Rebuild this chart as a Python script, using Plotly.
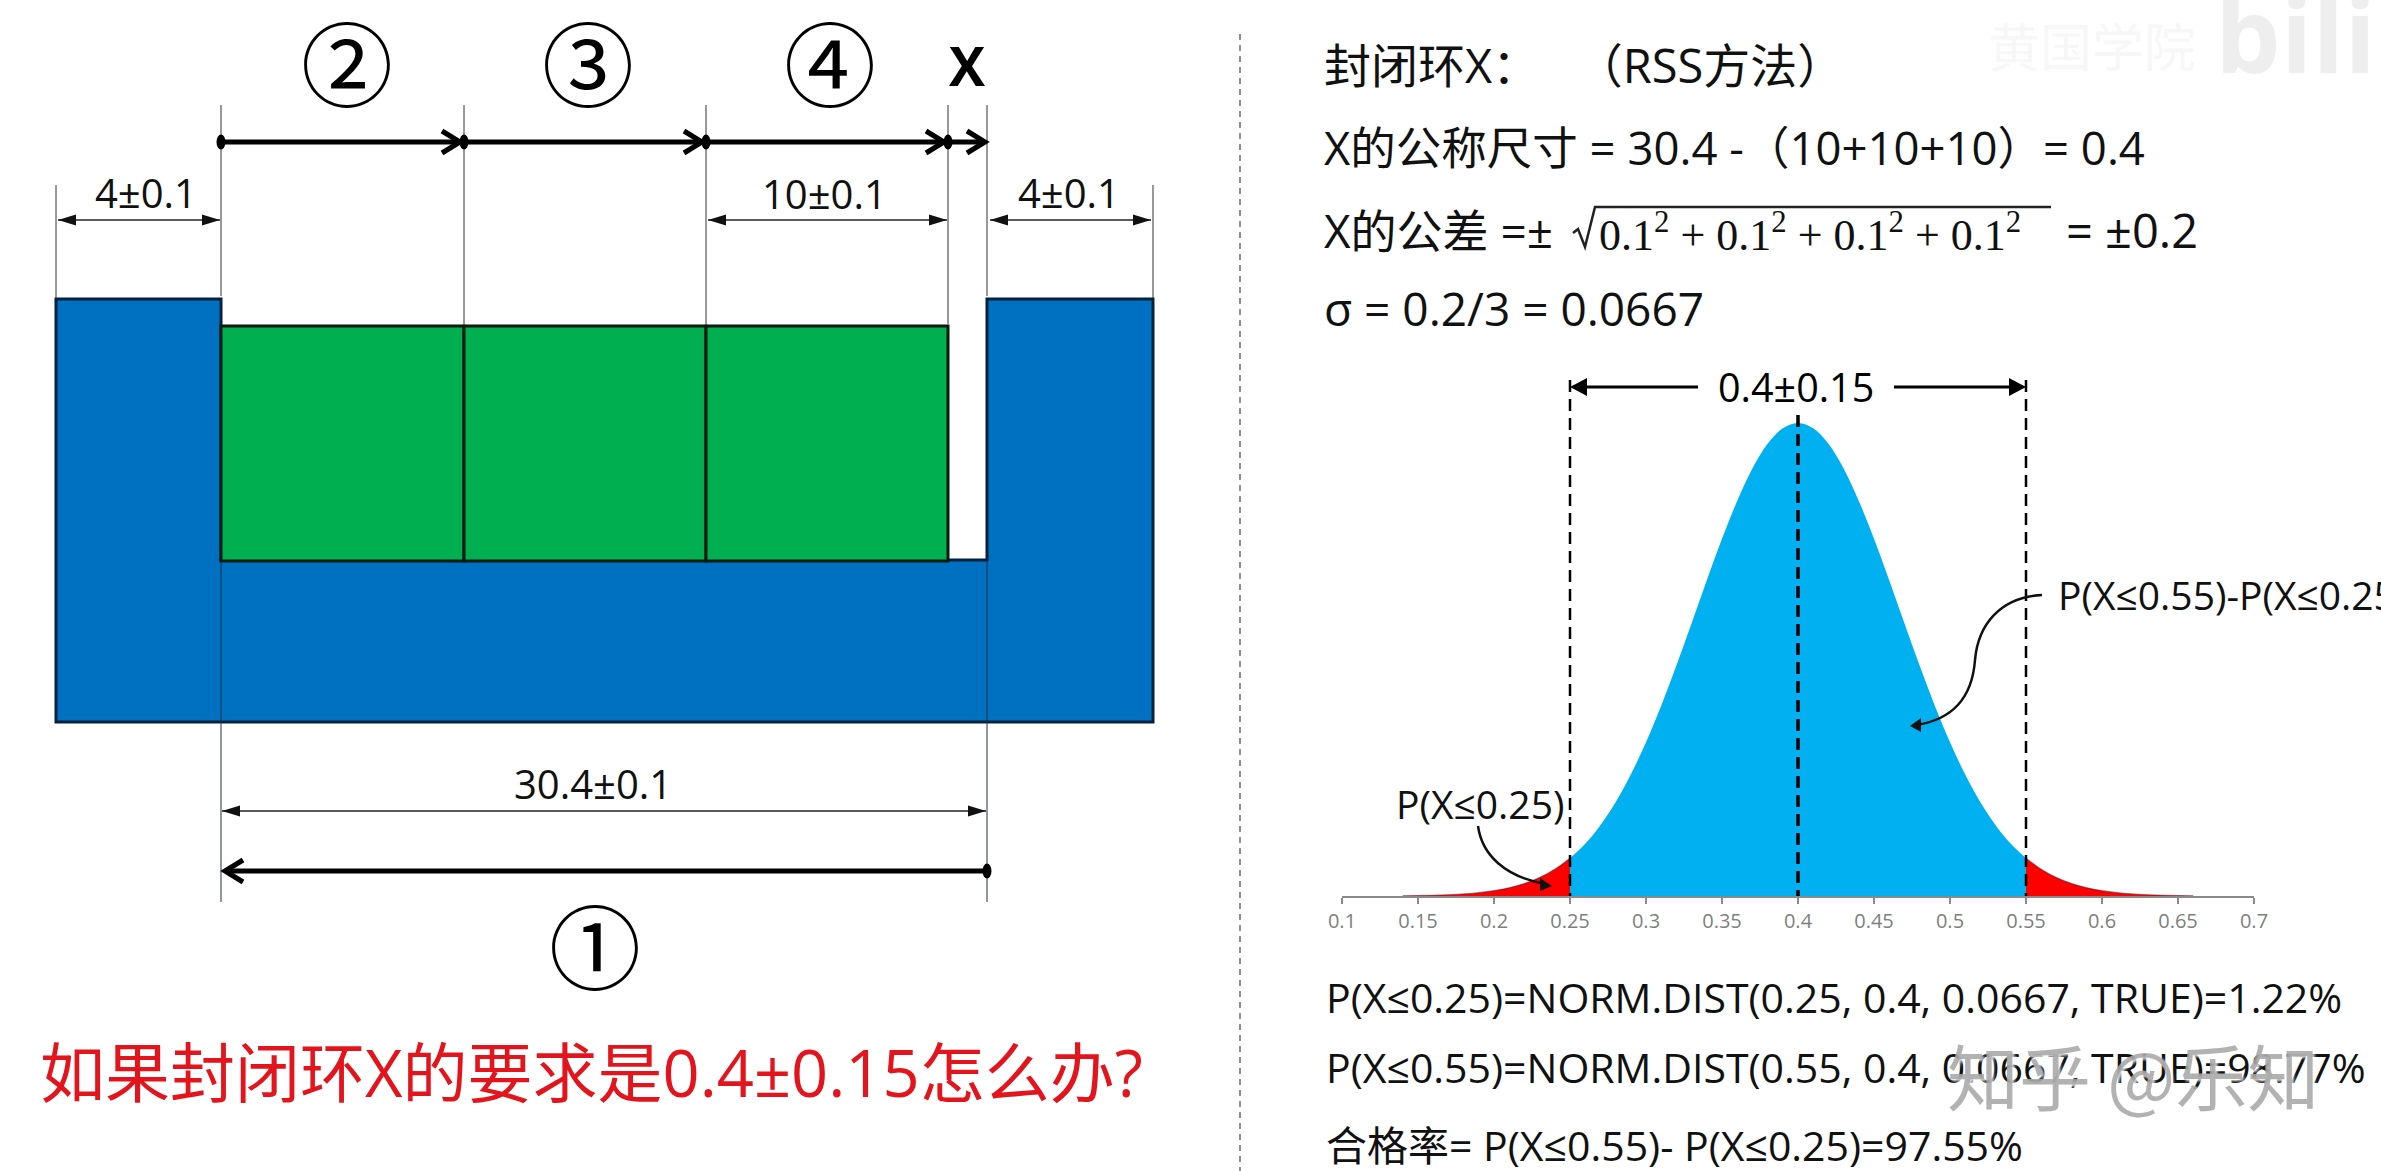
import plotly.graph_objects as go

# ---------- data ----------
BELL_X = [0.14,0.15,0.16,0.17,0.18,0.19,0.20,0.21,0.22,0.23,0.24,0.25,0.26,0.27,0.28,0.29,0.30,0.31,0.32,0.33,0.34,
          0.35,0.36,0.37,0.38,0.39,0.40,0.41,0.42,0.43,0.44,0.45,0.46,0.47,0.48,0.49,0.50,0.51,0.52,0.53,0.54,0.55,
          0.56,0.57,0.58,0.59,0.60,0.61,0.62,0.63,0.64,0.65,0.66]
BELL_Y = [0.05,0.09,0.15,0.26,0.43,0.70,1.12,1.73,2.63,3.89,5.64,7.99,11.05,14.97,19.82,25.67,32.50,40.24,48.72,57.68,66.74,
          75.51,83.53,90.38,95.60,98.88,100,98.88,95.60,90.38,83.53,75.51,66.74,57.68,48.72,40.24,32.50,25.67,19.82,14.97,11.05,7.99,
          5.64,3.89,2.63,1.73,1.12,0.70,0.43,0.26,0.15,0.09,0.05]
TICK_VALS = [0.1,0.15,0.2,0.25,0.3,0.35,0.4,0.45,0.5,0.55,0.6,0.65,0.7]
TICK_TEXT = ["0.1","0.15","0.2","0.25","0.3","0.35","0.4","0.45","0.5","0.55","0.6","0.65","0.7"]
LOWER_LIMIT = 0.25
UPPER_LIMIT = 0.55
NOMINAL = 0.4
REPORT_LINES = ["P(X≤0.25)=NORM.DIST(0.25, 0.4, 0.0667, TRUE)=1.22%",
                "P(X≤0.55)=NORM.DIST(0.55, 0.4, 0.0667, TRUE)=98.77%",
                "合格率= P(X≤0.55)- P(X≤0.25)=97.55%"]

W, H = 2381, 1171
FONT = "Open Sans, Noto Sans CJK SC, Noto Sans, sans-serif"
CJK = "Noto Sans CJK SC, Noto Sans, sans-serif"
BLUE, GREEN, SKY, RED = "#0070C0", "#00B050", "#00B0F0", "#FF0000"
INK = "#111111"

shapes, annos = [], []

def line(x0, y0, x1, y1, w=1.0, c="#333333", dash=None, xref="x"):
    shapes.append(dict(type="line", xref=xref, yref="y", x0=x0, y0=y0, x1=x1, y1=y1,
                       line=dict(color=c, width=w, dash=dash or "solid")))

def path(d, fill=None, w=0, c=None):
    s = dict(type="path", xref="x", yref="y", path=d, line=dict(width=w, color=c or "rgba(0,0,0,0)"))
    if fill:
        s["fillcolor"] = fill
    shapes.append(s)

def text(x, y, s, size, color=INK, anchor="center", font=FONT, **kw):
    f = dict(size=size, color=color, family=font)
    f.update(kw)
    annos.append(dict(xref="x", yref="y", x=x, y=y, text=s, showarrow=False, xanchor=anchor,
                      yanchor="middle", font=f, borderpad=0, borderwidth=0))

def tri(x, y, d, ln=18, hw=5.5, c=INK):
    path(f"M{x},{y} L{x - d*ln},{y - hw} L{x - d*ln},{y + hw} Z", fill=c)

def dim(x0, x1, y, w=1.5):
    line(x0, y, x1, y, w, "#222222")
    tri(x0, y, -1)
    tri(x1, y, 1)

def heavy(x_start, x_tip, y):
    d = 1 if x_tip > x_start else -1
    line(x_start, y, x_tip - d*6, y, 5, "#000000")
    shapes.append(dict(type="circle", xref="x", yref="y", x0=x_start-4.5, x1=x_start+4.5, y0=y-7.5, y1=y+7.5,
                       fillcolor="#000000", line=dict(width=0)))
    tip = x_tip - d*4
    path(f"M{tip - d*18},{y - 11} L{tip},{y} L{tip - d*18},{y + 11}", w=5, c="#000000")

# ---------- U shaped base ----------
OUT_L, OUT_R, IN_L, IN_R = 56, 1153, 221, 987
TOP, FLOOR, BOT = 299, 560, 722
path(f"M{OUT_L},{TOP} L{IN_L},{TOP} L{IN_L},{FLOOR} L{IN_R},{FLOOR} L{IN_R},{TOP} L{OUT_R},{TOP} L{OUT_R},{BOT} L{OUT_L},{BOT} Z",
     fill=BLUE, w=3, c="#06203f")
EDGES = [221, 464, 706, 948]
for a, b in zip(EDGES[:-1], EDGES[1:]):
    shapes.append(dict(type="rect", xref="x", yref="y", x0=a, x1=b, y0=326, y1=561,
                       fillcolor=GREEN, line=dict(color="#0b1a10", width=3)))

# ---------- extension lines ----------
for x in [221, 464, 706, 948, 987]:
    line(x, 105, x, 296 if x in (221, 987) else 324)
line(56, 185, 56, 298); line(1153, 185, 1153, 298)
for x in [221, 987]:
    line(x, 562, x, 902, 1.0, "#20303f")

# ---------- top chain ----------
heavy(221, 464, 142); heavy(464, 706, 142); heavy(706, 948, 142); heavy(948, 989, 142)
dim(58, 220, 220); dim(708, 947, 220); dim(990, 1151, 220)
text(146, 192, "4±0.1", 40); text(824, 193, "10±0.1", 40); text(1069, 192, "4±0.1", 40)
for cx, s in [(347, "②"), (588, "③"), (830, "④")]:
    text(cx, 59, s, 92, "#000000", font=CJK)
text(967, 65, "X", 54, "#000000", weight="bold")

# ---------- bottom chain ----------
dim(222, 986, 811)
text(593, 783, "30.4±0.1", 40)
heavy(987, 221, 871)
text(595, 942, "①", 92, "#000000", font=CJK)
text(591, 1072, "如果封闭环X的要求是0.4±0.15怎么办?", 65, "#E3141C")

# ---------- right panel text ----------
line(1240, 34, 1240, H, 1.2, "#444444", dash="6px,5px")
LEFT = 1324
text(LEFT, 65, "封闭环X：   （RSS方法）", 47, anchor="left")
text(LEFT, 147, "X的公称尺寸 = 30.4 -（10+10+10）= 0.4", 45.5, anchor="left")
text(LEFT, 230, "X的公差 =±", 46, anchor="left")
path("M1573,233 L1578,229 L1585,247 L1595,207 L2051,207", w=2.5, c="#222222")
SERIF = "Liberation Serif, DejaVu Serif, serif"
text(1599, 232, "0.1<sup>2</sup> + 0.1<sup>2</sup> + 0.1<sup>2</sup> + 0.1<sup>2</sup>", 44, anchor="left", font=SERIF)
text(2066, 230, "= ±0.2", 47, anchor="left")
text(LEFT, 308, "σ = 0.2/3 = 0.0667", 46, anchor="left")
for y, s in zip([997, 1067, 1145], REPORT_LINES):
    text(1326, y, s, 41, anchor="left")

# ---------- bell chart annotations ----------
for v, w, top in [(LOWER_LIMIT, 2.5, 380), (UPPER_LIMIT, 2.5, 380), (NOMINAL, 3.5, 415)]:
    line(v, top, v, 896, w, "#000000", dash="12px,7px", xref="x2")
line(1698, 387, 1575, 387, 3, "#000000"); tri(1570, 387, -1, 17, 9, "#000000")
line(1894, 387, 2020, 387, 3, "#000000"); tri(2026, 387, 1, 17, 9, "#000000")
text(1796, 387, "0.4±0.15", 39.5, "#000000")
text(1396, 803, "P(X≤0.25)", 39, anchor="left")
text(2058, 594, "P(X≤0.55)-P(X≤0.25)", 39, anchor="left")
path("M2042,595 C2000,597 1978,625 1975,660 C1972,700 1950,720 1916,725", w=2.5, c="#111111")
path("M1910,726 L1921,718 L1921,732 Z", fill="#111111")
path("M1478,826 C1482,855 1505,877 1546,884", w=2.5, c="#111111")
path("M1552,886 L1540,878 L1540,891 Z", fill="#111111")

# ---------- watermarks ----------
text(2133, 1073, "知乎 @乐知", 72, "rgba(165,165,165,0.85)", font=CJK, shadow="2px 2px 3px white")
text(2092, 44, "黄国学院", 52, "#F7F7F7", font=CJK)
text(2215, 32, "bilibili", 104, "#EEEEEE", anchor="left", weight="bold")

# ---------- traces ----------
def part(lo, hi):
    pts = [(x, y) for x, y in zip(BELL_X, BELL_Y) if lo <= x + 1e-9 and x - 1e-9 <= hi]
    return [p[0] for p in pts], [p[1] for p in pts]

fig = go.Figure()
fig.add_trace(go.Scatter(x=[0, W], y=[0, H], mode="markers", marker=dict(opacity=0), hoverinfo="skip",
                         showlegend=False, xaxis="x", yaxis="y"))
for lo, hi, col, lc, lw in [(0.1, LOWER_LIMIT, RED, "rgba(90,25,50,0.55)", 1.2), (LOWER_LIMIT, UPPER_LIMIT, SKY, SKY, 0),
                            (UPPER_LIMIT, 0.7, RED, "rgba(90,25,50,0.55)", 1.2)]:
    xs, ys = part(lo, hi)
    fig.add_trace(go.Scatter(x=xs, y=ys, mode="lines", fill="tozeroy", fillcolor=col,
                             line=dict(width=lw, color=lc, shape="spline"),
                             hoverinfo="skip", showlegend=False, xaxis="x2", yaxis="y2"))

fig.update_layout(
    width=W, height=H, margin=dict(l=0, r=0, t=0, b=0, pad=0, autoexpand=False), paper_bgcolor="white",
    plot_bgcolor="rgba(0,0,0,0)", showlegend=False, shapes=shapes, annotations=annos, font=dict(family=FONT),
    xaxis=dict(domain=[0, 1], range=[0, W], visible=False, fixedrange=True, automargin=False),
    yaxis=dict(domain=[0, 1], range=[H, 0], visible=False, fixedrange=True, automargin=False),
    xaxis2=dict(domain=[1342/W, 2254/W], range=[0.1, 0.7], anchor="y2", tickmode="array", tickvals=TICK_VALS,
                ticktext=TICK_TEXT, ticks="outside", ticklen=6, tickcolor="#8a8a8a", tickwidth=1.5, showline=True,
                linecolor="#8a8a8a", linewidth=1.5, showgrid=False, zeroline=False, automargin=False,
                tickfont=dict(size=20, color="#7f7f7f", family=FONT), fixedrange=True),
    yaxis2=dict(domain=[(H-896)/H, (H-423)/H], range=[0, 100], anchor="x2", visible=False, fixedrange=True),
)
fig.write_html("out.html", config=dict(displayModeBar=False),
               post_script="document.body.style.margin='0';document.body.style.overflow='hidden';")
